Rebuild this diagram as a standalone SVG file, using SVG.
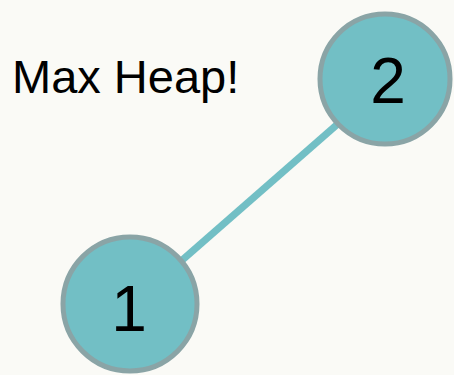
<svg xmlns="http://www.w3.org/2000/svg" width="454" height="375" viewBox="0 0 454 375">
<style>
.node circle{fill:#72bfc5;stroke:#8aa4a6;stroke-width:5}
.node text{font-family:"Liberation Sans",Arial,sans-serif;font-size:64px;fill:#000;text-anchor:middle}
.edge{stroke:#72bfc5;stroke-width:7}
.title{font-family:"Liberation Sans",Arial,sans-serif;font-size:47px;fill:#000}
</style>
<rect width="454" height="375" fill="#fafaf6"/>
<g id="connectors">
<line class="edge" x1="180" y1="262" x2="340" y2="122"/>
</g>
<g id="node-2" class="node">
<circle cx="385" cy="79" r="65"/>
<text x="388" y="103">2</text>
</g>
<g id="node-1" class="node">
<circle cx="130" cy="304" r="67"/>
<text x="129" y="331">1</text>
</g>
<text class="title" x="12" y="93">Max Heap!</text>
</svg>
